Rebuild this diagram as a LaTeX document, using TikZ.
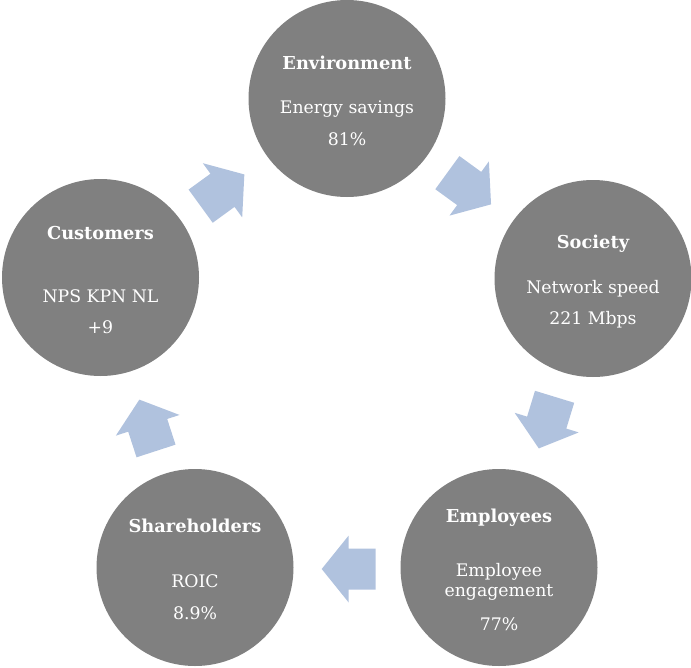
\documentclass[tikz,border=0pt]{standalone}
\usepackage{fontspec}
\setmainfont{DejaVu Serif}
\definecolor{circgray}{RGB}{128,128,128}
\definecolor{arrowblue}{RGB}{176,194,222}
\tikzset{
  circ/.style={circle, fill=circgray, minimum size=197pt, inner sep=0pt},
  ttl/.style={anchor=base, text=white, inner sep=0pt, font=\fontsize{17.8}{20}\selectfont\bfseries},
  txt/.style={anchor=base, text=white, inner sep=0pt, font=\fontsize{17.3}{20}\selectfont},
  arrowfill/.style={fill=arrowblue}
}
\newcommand\blockarrow[3]{%
  \fill[arrowfill, shift={(#1,#2)}, rotate=#3]
    (27,0) -- (0,33.5) -- (0,20.5) -- (-27,20.5) -- (-27,-20.5) -- (0,-20.5) -- (0,-33.5) -- cycle;}
\begin{document}
\begin{tikzpicture}[x=1pt,y=-1pt]
\useasboundingbox (0,0) rectangle (691,667);
% circles
\node[circ] (env) at (347,98.5) {};
\node[circ] (soc) at (593,278.5) {};
\node[circ] (emp) at (499,567.5) {};
\node[circ] (sha) at (195,567.5) {};
\node[circ] (cus) at (100.5,277.5) {};
% texts
\node[ttl] (envT) at (347,69) {Environment};
\node[txt] (envA) at (347,113.3) {Energy savings};
\node[txt] (envB) at (347,145.7) {81\%};
\node[ttl] (socT) at (593,248.3) {Society};
\node[txt] (socA) at (593,293.3) {Network speed};
\node[txt] (socB) at (593,324.3) {221 Mbps};
\node[ttl] (empT) at (499,522.7) {Employees};
\node[txt] (empA) at (499,576) {Employee};
\node[txt] (empB) at (499,596.7) {engagement};
\node[txt] (empC) at (499,630.7) {77\%};
\node[ttl] (shaT) at (195,532.7) {Shareholders};
\node[txt] (shaA) at (195,587.7) {ROIC};
\node[txt] (shaB) at (195,619) {8.9\%};
\node[ttl] (cusT) at (100.5,239.3) {Customers};
\node[txt] (cusA) at (100.5,302.3) {NPS KPN NL};
\node[txt] (cusB) at (100.5,333.3) {+9};
% arrows
\blockarrow{222.5}{190.3}{36}
\blockarrow{469.2}{188.5}{-36}
\blockarrow{546.7}{422.6}{-107}
\blockarrow{348.7}{569}{180}
\blockarrow{147.7}{425.3}{108}
\end{tikzpicture}
\end{document}
